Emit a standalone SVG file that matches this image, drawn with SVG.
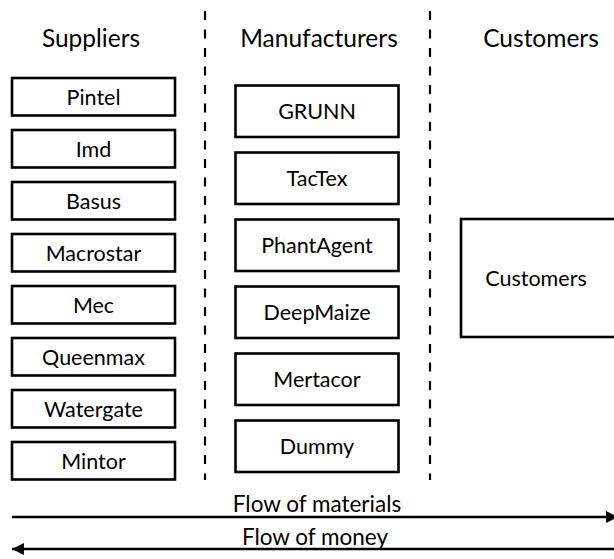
<svg xmlns="http://www.w3.org/2000/svg" width="614" height="559" viewBox="0 0 614 559">
  <style>
    text { font-family: Lato, "Open Sans", "Liberation Sans", sans-serif; fill: #000; text-anchor: middle; }
    .head { font-size: 24.5px; }
    .lbl { font-size: 21.5px; }
    .flow { font-size: 22.5px; }
    .box { fill: #fff; stroke: #000; stroke-width: 2.6; }
    .div { stroke: #000; stroke-width: 2.2; stroke-dasharray: 9 9.5; fill: none; }
    .arrow { stroke: #000; stroke-width: 2.3; fill: none; }
  </style>
  <defs>
    <marker id="head" viewBox="0 0 10 10" refX="10" refY="5" markerWidth="5.2" markerHeight="5.8" orient="auto-start-reverse" markerUnits="strokeWidth">
      <path d="M0,0 L10,5 L0,10 Z" fill="#000"/>
    </marker>
  </defs>

  <rect width="614" height="559" fill="#fff"/>

  <!-- column headers -->
  <g id="headers">
    <text class="head" x="91" y="47">Suppliers</text>
    <text class="head" x="319" y="47">Manufacturers</text>
    <text class="head" x="541" y="47">Customers</text>
  </g>

  <!-- column dividers -->
  <g id="dividers">
    <line class="div" x1="205" y1="11" x2="205" y2="480"/>
    <line class="div" x1="430" y1="11" x2="430" y2="480"/>
  </g>

  <!-- suppliers -->
  <g id="pintel"><rect class="box" x="12" y="78" width="163" height="37.5"/><text class="lbl" x="93.5" y="104.5">Pintel</text></g>
  <g id="imd"><rect class="box" x="12" y="130" width="163" height="37.5"/><text class="lbl" x="93.5" y="156.5">Imd</text></g>
  <g id="basus"><rect class="box" x="12" y="182" width="163" height="37.5"/><text class="lbl" x="93.5" y="208.5">Basus</text></g>
  <g id="macrostar"><rect class="box" x="12" y="234" width="163" height="37.5"/><text class="lbl" x="93.5" y="260.5">Macrostar</text></g>
  <g id="mec"><rect class="box" x="12" y="286" width="163" height="37.5"/><text class="lbl" x="93.5" y="312.5">Mec</text></g>
  <g id="queenmax"><rect class="box" x="12" y="338" width="163" height="37.5"/><text class="lbl" x="93.5" y="364.5">Queenmax</text></g>
  <g id="watergate"><rect class="box" x="12" y="390" width="163" height="37.5"/><text class="lbl" x="93.5" y="416.5">Watergate</text></g>
  <g id="mintor"><rect class="box" x="12" y="442" width="163" height="37.5"/><text class="lbl" x="93.5" y="468.5">Mintor</text></g>

  <!-- manufacturers -->
  <g id="grunn"><rect class="box" x="235.5" y="85.5" width="163" height="51.5"/><text class="lbl" x="317" y="119">GRUNN</text></g>
  <g id="tactex"><rect class="box" x="235.5" y="152.5" width="163" height="51.5"/><text class="lbl" x="317" y="186">TacTex</text></g>
  <g id="phantagent"><rect class="box" x="235.5" y="219.5" width="163" height="51.5"/><text class="lbl" x="317" y="253">PhantAgent</text></g>
  <g id="deepmaize"><rect class="box" x="235.5" y="286.5" width="163" height="51.5"/><text class="lbl" x="317" y="320">DeepMaize</text></g>
  <g id="mertacor"><rect class="box" x="235.5" y="353.5" width="163" height="51.5"/><text class="lbl" x="317" y="387">Mertacor</text></g>
  <g id="dummy"><rect class="box" x="235.5" y="420.5" width="163" height="51.5"/><text class="lbl" x="317" y="454">Dummy</text></g>

  <!-- customers -->
  <g id="customers"><rect class="box" x="461" y="219" width="165" height="118"/><text class="lbl" x="536" y="286">Customers</text></g>

  <!-- flows -->
  <g id="connectors">
    <line class="arrow" x1="12" y1="517" x2="618" y2="517" marker-end="url(#head)"/>
    <text class="flow" x="317" y="511.5">Flow of materials</text>
    <line class="arrow" x1="614" y1="549" x2="12" y2="549" marker-end="url(#head)"/>
    <text class="flow" x="315" y="544.5">Flow of money</text>
  </g>
</svg>
